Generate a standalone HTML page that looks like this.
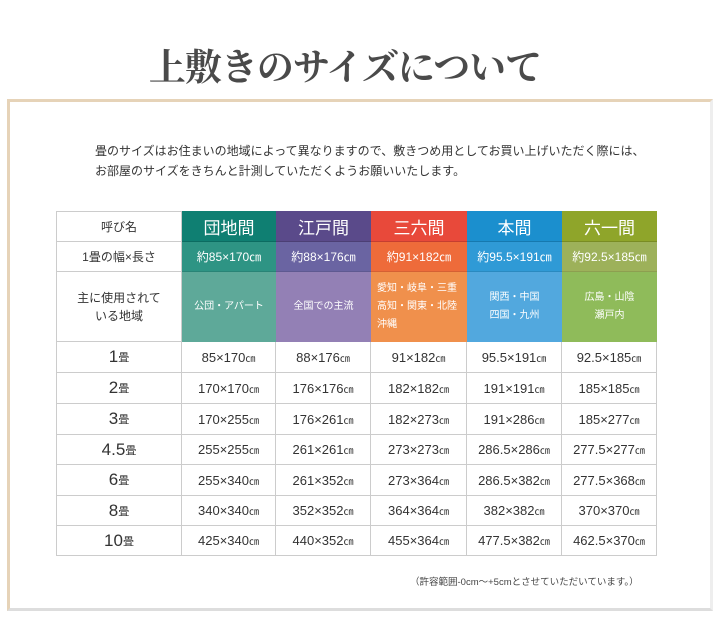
<!DOCTYPE html>
<html><head><meta charset="utf-8"><style>
*{margin:0;padding:0;box-sizing:border-box}
body{width:720px;height:621px;background:#fff;position:relative;overflow:hidden;font-family:"Liberation Sans","Noto Sans CJK JP",sans-serif;color:#333}
.t{position:absolute;left:0;width:720px;top:37px;text-align:center;font-family:"Liberation Serif","Noto Serif CJK SC",serif;font-weight:bold;font-size:37px;color:#4a4a4a;letter-spacing:-1px;padding-right:30px}
.frame{position:absolute;left:7px;top:99px;width:706px;height:512px;border:3px solid #e6d3b8;border-bottom-color:#ddd;border-right-color:#eee}
.intro{position:absolute;left:95px;top:141px;font-size:12px;line-height:20px;color:#333}
.c{position:absolute;display:flex;align-items:center;justify-content:center;text-align:center}
.note{position:absolute;left:410px;top:574px;font-size:9.5px;color:#444}
</style></head><body>
<div class="t">上敷きのサイズについて</div>
<div class="frame"></div>
<div class="intro">畳のサイズはお住まいの地域によって異なりますので、敷きつめ用としてお買い上げいただく際には、<br>お部屋のサイズをきちんと計測していただくようお願いいたします。</div>
<div id="tbl"></div>
<div class="note">（許容範囲-0cm～+5cmとさせていただいています。）</div>
<script>
var xs=[56,182,276,371,467,562,657];
var ys=[211,242,272,342,373,404,435,465,496,526,556];
var hc=["#0f7f72","#5a4a8a","#e8493a","#1b8fce","#8fa52a"];
var r2=["#2e9484","#6a64a2","#ee6b3a","#2f9ad6","#9db15a"];
var r3=["#5ea999","#9380b5","#f0904c","#52a8de","#8fbb5a"];
var names=["団地間","江戸間","三六間","本間","六一間"];
var sz=["約85×170㎝","約88×176㎝","約91×182㎝","約95.5×191㎝","約92.5×185㎝"];
var reg=["公団・アパート","全国での主流","愛知・岐阜・三重<br>高知・関東・北陸<br>沖縄","関西・中国<br>四国・九州","広島・山陰<br>瀬戸内"];
var rows=[["1","85×170","88×176","91×182","95.5×191","92.5×185"],["2","170×170","176×176","182×182","191×191","185×185"],["3","170×255","176×261","182×273","191×286","185×277"],["4.5","255×255","261×261","273×273","286.5×286","277.5×277"],["6","255×340","261×352","273×364","286.5×382","277.5×368"],["8","340×340","352×352","364×364","382×382","370×370"],["10","425×340","440×352","455×364","477.5×382","462.5×370"]];
var h="";
function cell(x0,x1,y0,y1,bg,txt,st){h+='<div class="c" style="left:'+x0+'px;top:'+y0+'px;width:'+(x1-x0)+'px;height:'+(y1-y0)+'px;background:'+bg+';'+(st||'')+'">'+txt+'</div>';}
var b="border-right:1px solid #ccc;border-bottom:1px solid #ccc;";
cell(56,182,211,242,"#fff","呼び名",b+"border-left:1px solid #ccc;border-top:1px solid #ccc;font-size:12px");
cell(56,182,242,272,"#fff","1畳の幅×長さ",b+"border-left:1px solid #ccc;font-size:12px");
cell(56,182,272,342,"#fff","主に使用されて<br>いる地域",b+"border-left:1px solid #ccc;font-size:12px;line-height:18px");
for(var i=0;i<5;i++){
cell(xs[i+1],xs[i+2],211,242,hc[i],names[i],"color:#fff;font-size:17px;border-bottom:1px solid rgba(0,0,0,.15)");
cell(xs[i+1],xs[i+2],242,272,r2[i],sz[i],"color:#fff;font-size:12px;border-bottom:1px solid rgba(0,0,0,.1)");
cell(xs[i+1],xs[i+2],272,342,r3[i],reg[i],"color:#fff;font-size:10px;line-height:18px;"+(i==2?"justify-content:flex-start;text-align:left;padding-left:6px":""));
}
for(var r=0;r<7;r++){
var y0=ys[r+3],y1=ys[r+4];
cell(56,182,y0,y1,"#fff",rows[r][0]+'<span style="font-size:11px">畳</span>',b+"border-left:1px solid #ccc;font-size:17px");
for(var i=0;i<5;i++)cell(xs[i+1],xs[i+2],y0,y1,"#fff",rows[r][i+1]+'<span style="font-size:10px">㎝</span>',b+"font-size:13px");
}
document.getElementById("tbl").innerHTML=h;
</script>
</body></html>
